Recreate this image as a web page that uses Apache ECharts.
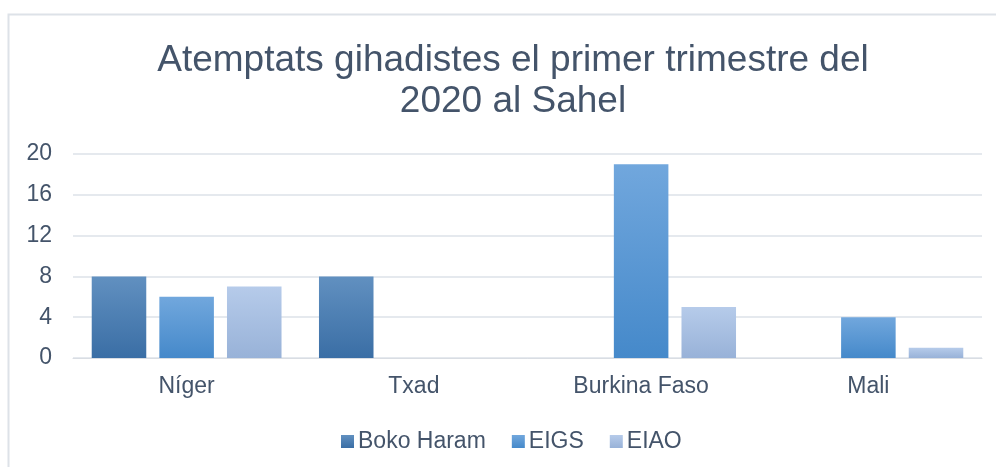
<!DOCTYPE html>
<html>
<head>
<meta charset="utf-8">
<script src="https://cdn.jsdelivr.net/npm/echarts@6/dist/echarts.min.js"></script>
<style>
  html, body { margin: 0; padding: 0; background: #fff; }
  #main { width: 996px; height: 467px; }
</style>
</head>
<body>
<div id="main"></div>
<script>
var categories = ['Níger', 'Txad', 'Burkina Faso', 'Mali'];
var bokoHaram = [8, 8, 0, 0];
var eigs = [6, 0, 19, 4];
var eiao = [7, 0, 5, 1];
var yTicks = [0, 4, 8, 12, 16, 20];

function grad(top, bottom) {
  return new echarts.graphic.LinearGradient(0, 0, 0, 1, [
    {offset: 0, color: top},
    {offset: 1, color: bottom}
  ]);
}

window.onload = function () {
  var myChart = echarts.init(document.getElementById('main'));
  var txt = '#44546a';
  var option = {
    animation: false,
    textStyle: { fontFamily: '"Liberation Sans", Arial, sans-serif' },
    title: {
      text: 'Atemptats gihadistes el primer trimestre del\n2020 al Sahel',
      left: 508,
      top: 35,
      textAlign: 'center',
      textStyle: {
        fontSize: 37,
        fontWeight: 'normal',
        color: txt,
        lineHeight: 41,
        align: 'center'
      }
    },
    legend: {
      top: 425,
      left: 336,
      itemWidth: 13,
      itemHeight: 13,
      itemGap: 26,
      icon: 'rect',
      textStyle: { fontSize: 23, color: txt, padding: [0, 0, 0, -1] },
      data: ['Boko Haram', 'EIGS', 'EIAO']
    },
    grid: {
      left: 73,
      right: 14,
      top: 154,
      bottom: 109,
      containLabel: false
    },
    xAxis: {
      type: 'category',
      data: categories,
      axisLine: { show: true, lineStyle: { color: '#d9dde3', width: 1 } },
      axisTick: { show: false },
      axisLabel: { fontSize: 23, color: txt, margin: 17 }
    },
    yAxis: {
      type: 'value',
      min: yTicks[0],
      max: yTicks[yTicks.length - 1],
      interval: 4,
      axisLine: { show: false },
      axisTick: { show: false },
      axisLabel: { fontSize: 23, color: txt, margin: 21 },
      splitLine: { lineStyle: { color: '#dde2e8', width: 1.5 } }
    },
    series: [
      {
        name: 'Boko Haram', type: 'bar', data: bokoHaram,
        barWidth: '24%', barGap: '24%',
        itemStyle: { color: grad('#6190c0', '#3a6ea5') }
      },
      {
        name: 'EIGS', type: 'bar', data: eigs,
        barWidth: '24%', barGap: '24%',
        itemStyle: { color: grad('#71a7dd', '#4589ca') }
      },
      {
        name: 'EIAO', type: 'bar', data: eiao,
        barWidth: '24%', barGap: '24%',
        itemStyle: { color: grad('#b6cbea', '#98b2d8') }
      }
    ],
    graphic: [{
      type: 'rect',
      shape: { x: 8.5, y: 14.5, width: 1000, height: 500 },
      style: { fill: 'none', stroke: '#dde2e8', lineWidth: 2 },
      silent: true
    }]
  };
  myChart.setOption(option);
};
</script>
</body>
</html>
